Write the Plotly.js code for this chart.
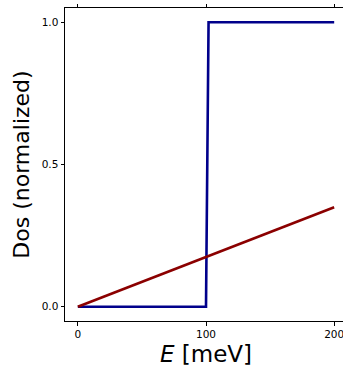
<!DOCTYPE html>
<html>
<head>
<meta charset="utf-8">
<script src="https://cdn.plot.ly/plotly-3.0.1.min.js"></script>
<style>
html, body { margin: 0; padding: 0; overflow: hidden; background: #fff; }
#chart { width: 350px; height: 369px; }
</style>
</head>
<body>
<div id="chart"></div>
<script>
// Data
const stepE = [0, 100, 102, 200];
const stepDos = [0, 0, 1, 1];
const lineE = [0, 200];
const lineDos = [0, 0.35];
const xTicks = [0, 100, 200];
const yTicks = [0, 0.5, 1.0];

const traces = [
  { x: stepE, y: stepDos, type: 'scatter', mode: 'lines',
    line: { color: '#00008B', width: 2.6 }, hoverinfo: 'skip' },
  { x: lineE, y: lineDos, type: 'scatter', mode: 'lines',
    line: { color: '#8B0000', width: 2.6 }, hoverinfo: 'skip' }
];

const font = 'DejaVu Sans, sans-serif';
const layout = {
  width: 350, height: 369,
  margin: { l: 65, r: 3, t: 8, b: 48 },
  showlegend: false,
  paper_bgcolor: '#fff', plot_bgcolor: '#fff',
  font: { family: font, color: '#000' },
  xaxis: {
    range: [-10, 210], tickvals: xTicks, ticktext: xTicks.map(String),
    showgrid: false, zeroline: false,
    showline: true, linecolor: '#000', linewidth: 1, mirror: 'ticks',
    ticks: 'outside', ticklen: 3.5, tickwidth: 1, tickcolor: '#000',
    tickfont: { family: font, size: 10.5, color: '#000' },
    title: { text: '<i>E</i> [meV]', font: { family: font, size: 23, color: '#000' }, standoff: 6 }
  },
  yaxis: {
    range: [-0.05, 1.05], tickvals: yTicks, ticktext: yTicks.map(v => v.toFixed(1)),
    showgrid: false, zeroline: false,
    showline: true, linecolor: '#000', linewidth: 1, mirror: 'ticks',
    ticks: 'outside', ticklen: 3.5, tickwidth: 1, tickcolor: '#000',
    tickfont: { family: font, size: 10.5, color: '#000' },
    title: { text: 'Dos (normalized)', font: { family: font, size: 22, color: '#000' }, standoff: 5 }
  }
};

Plotly.newPlot('chart', traces, layout, { displayModeBar: false, staticPlot: true });
</script>
</body>
</html>
